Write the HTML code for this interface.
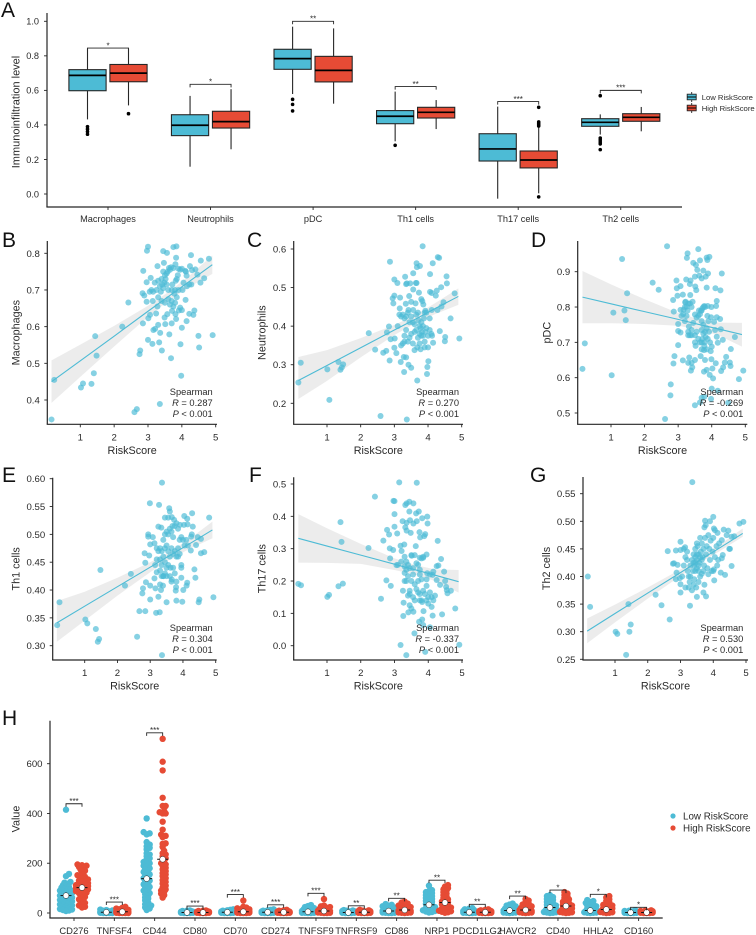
<!DOCTYPE html>
<html lang="en">
<head>
<meta charset="utf-8">
<title>Immune infiltration and RiskScore</title>
<style>
html,body{margin:0;padding:0;background:#fff;}
svg{display:block;font-family:"Liberation Sans",Arial,sans-serif;}
</style>
</head>
<body>
<svg id="chart" width="756" height="935" viewBox="0 0 756 935" xmlns="http://www.w3.org/2000/svg">
<g font-size="21" fill="#111">
<text x="1" y="17">A</text>
<text x="2" y="247">B</text>
<text x="247" y="247">C</text>
<text x="531" y="247">D</text>
<text x="2" y="482">E</text>
<text x="249" y="482">F</text>
<text x="530" y="482">G</text>
<text x="2" y="725">H</text>
</g>
<g id="panelA"></g>
<g id="panelB"></g>
<g id="panelC"></g>
<g id="panelD"></g>
<g id="panelE"></g>
<g id="panelF"></g>
<g id="panelG"></g>
<g id="panelH"></g>
</svg>
<script>
/* ---------- Panel A data ---------- */
const boxCategories = ["Macrophages","Neutrophils","pDC","Th1 cells","Th17 cells","Th2 cells"];
const boxYTicks = [0.0,0.2,0.4,0.6,0.8,1.0];
const boxYTickLabels = ["0.0","0.2","0.4","0.6","0.8","1.0"];
const lowWhiskerLow = [0.432,0.158,0.579,0.305,-0.027,0.344];
const lowQ1 = [0.598,0.338,0.722,0.407,0.191,0.392];
const lowMedian = [0.687,0.398,0.784,0.450,0.261,0.415];
const lowQ3 = [0.720,0.459,0.838,0.483,0.349,0.436];
const lowWhiskerHigh = [0.843,0.568,0.969,0.593,0.506,0.461];
const lowOutliers = [[0.390,0.376,0.361,0.346],[],[0.548,0.519,0.481],[0.282],[],[0.569,0.324,0.313,0.301,0.290,0.257]];
const highWhiskerLow = [0.513,0.259,0.523,0.376,0.004,0.363];
const highQ1 = [0.650,0.382,0.649,0.440,0.151,0.421];
const highMedian = [0.700,0.419,0.716,0.473,0.197,0.444];
const highQ3 = [0.750,0.479,0.797,0.502,0.249,0.465];
const highWhiskerHigh = [0.843,0.607,0.959,0.544,0.390,0.504];
const highOutliers = [[0.465],[],[],[],[0.502,0.417,0.409,0.400,0.394,-0.017],[]];
const boxBracketLevel = [0.845,0.635,1.000,0.622,0.535,0.600];
const boxStars = ["*","*","**","**","***","***"];
const riskGroups = ["Low RiskScore","High RiskScore"];

/* ---------- Scatter data ---------- */
const riskTicks = [1,2,3,4,5];
const bandRisk = [0.15,1,2,3,3.6,4.2,4.9];

const macrophagePoints = [[.15,.347],[.23,.455],[1.02,.434],[1.08,.445],[1.33,.444],[1.40,.473],[1.44,.574],[1.48,.521],[2.24,.6],[2.42,.666],[2.6,.367],[2.67,.375],[3.35,.389],[3.98,.466],[3.68,.514],[2.75,.525],[2.77,.535],[4.51,.543],[4.49,.575],[4.91,.577],[3.96,.552],[3.41,.535],[3.33,.557],[3.13,.553],[3.0,.564],[3.63,.579],[3.36,.583],[2.85,.609],[3.16,.591],[3.3,.605],[3.21,.594],[3.51,.607],[3.7,.609],[4.0,.597],[4.14,.615],[3.83,.621],[3.49,.625],[3.01,.623],[3.24,.636],[3.06,.632],[4.22,.635],[4.34,.632],[4.37,.644],[3.57,.634],[3.81,.634],[3.71,.643],[3.95,.652],[4.0,.645],[3.91,.644],[4.11,.673],[2.96,.668],[3.14,.67],[2.84,.691],[2.89,.685],[2.96,.721],[3.08,.733],[2.86,.752],[3.28,.765],[2.97,.807],[3.0,.818],[3.45,.806],[3.56,.801],[3.75,.817],[3.84,.819],[3.83,.788],[4.27,.795],[4.56,.78],[4.8,.785],[3.47,.774],[3.81,.77],[4.24,.765],[4.4,.756],[4.3,.754],[4.12,.75],[4.14,.739],[4.46,.742],[4.66,.732],[4.55,.72],[3.2,.72],[3.25,.70],[3.3,.725],[3.35,.71],[3.38,.695],[3.4,.73],[3.42,.715],[3.45,.705],[3.45,.75],[3.48,.72],[3.5,.74],[3.52,.73],[3.55,.745],[3.55,.715],[3.58,.75],[3.6,.70],[3.62,.76],[3.65,.755],[3.68,.762],[3.7,.70],[3.72,.715],[3.75,.76],[3.78,.69],[3.8,.70],[3.82,.725],[3.85,.73],[3.88,.74],[3.9,.758],[3.95,.755],[4.0,.758],[4.05,.72],[4.1,.752],[4.15,.71],[4.22,.715],[4.28,.715],[3.3,.68],[3.4,.67],[3.5,.665],[3.6,.675],[3.65,.66],[3.7,.67],[3.75,.655],[3.8,.665],[3.85,.68],[3.9,.70],[4.02,.70],[3.15,.695],[3.1,.70],[3.05,.695],[3.28,.655]];
const macrophageYTicks = [0.4,0.5,0.6,0.7,0.8];
const macrophageFit = [.45,.507,.574,.642,.682,.722,.769];
const macrophageBandLow = [.392,.463,.546,.627,.670,.707,.744];
const macrophageBandHigh = [.508,.551,.602,.657,.694,.737,.794];

const neutrophilPoints = [[.15,.254],[.22,.305],[1.01,.288],[1.07,.209],[1.34,.307],[1.4,.287],[1.44,.293],[1.48,.301],[2.24,.382],[2.43,.339],[2.59,.167],[2.67,.331],[2.76,.336],[2.78,.384],[2.84,.399],[2.86,.311],[2.87,.567],[2.89,.366],[3.0,.521],[3.09,.512],[3.01,.368],[3.0,.344],[3.06,.33],[3.19,.307],[3.28,.32],[3.35,.319],[3.42,.3],[3.5,.292],[3.29,.281],[3.37,.158],[3.68,.259],[3.97,.276],[3.98,.294],[4.01,.309],[3.84,.607],[4.29,.579],[4.33,.577],[4.14,.563],[3.66,.563],[3.76,.556],[3.67,.553],[3.56,.537],[3.32,.528],[4.06,.535],[4.55,.529],[4.56,.511],[4.39,.501],[4.26,.492],[4.06,.489],[4.11,.486],[4.23,.479],[4.79,.485],[4.67,.42],[4.93,.368],[4.5,.361],[4.51,.372],[4.35,.387],[4.15,.357],[3.37,.511],[3.35,.509],[3.47,.511],[3.64,.512],[3.66,.512],[3.56,.495],[3.73,.487],[3.0,.479],[2.95,.472],[2.97,.459],[3.17,.474],[3.44,.478],[3.8,.47],[3.83,.465],[3.86,.456],[3.5,.463],[3.63,.459],[3.34,.458],[3.16,.446],[3.42,.442],[3.56,.442],[4.11,.442],[4.28,.442],[4.46,.462],[4.4,.451],[3.2,.425],[3.25,.43],[3.3,.42],[3.35,.425],[3.4,.435],[3.45,.41],[3.5,.425],[3.55,.41],[3.6,.405],[3.65,.43],[3.7,.435],[3.72,.415],[3.75,.40],[3.78,.395],[3.8,.41],[3.82,.385],[3.85,.40],[3.85,.375],[3.88,.42],[3.9,.435],[3.92,.385],[3.7,.37],[3.75,.38],[3.8,.375],[3.6,.385],[3.65,.39],[3.5,.38],[3.45,.37],[3.55,.355],[3.4,.36],[3.3,.375],[3.25,.355],[3.3,.36],[3.2,.35],[3.35,.39],[3.95,.395],[4.0,.375],[4.05,.39],[4.1,.38],[4.12,.375],[4.0,.345],[3.9,.345],[3.78,.34],[3.68,.345],[3.6,.338],[3.9,.36],[3.75,.355],[3.1,.40],[3.15,.43],[4.05,.42],[3.92,.44],[3.95,.435]];
const neutrophilYTicks = [0.2,0.3,0.4,0.5,0.6];
const neutrophilFit = [.259,.298,.344,.39,.417,.445,.477];
const neutrophilBandLow = [.211,.258,.319,.377,.406,.431,.455];
const neutrophilBandHigh = [.32,.338,.369,.403,.428,.459,.498];

const pdcPoints = [[.15,.625],[.22,.697],[1.02,.607],[1.07,.784],[1.33,.936],[1.4,.79],[1.44,.763],[1.48,.839],[2.24,.869],[2.42,.849],[2.61,.483],[2.67,.972],[2.78,.581],[2.77,.55],[2.85,.82],[2.87,.787],[2.86,.64],[2.89,.661],[3.0,.692],[3.0,.752],[3.0,.732],[3.07,.728],[2.95,.875],[2.96,.853],[2.98,.832],[3.07,.859],[3.14,.835],[3.14,.649],[3.28,.952],[3.26,.939],[3.6,.964],[3.45,.925],[3.53,.919],[3.57,.905],[3.65,.932],[3.85,.94],[3.93,.942],[3.87,.933],[3.75,.903],[3.89,.895],[4.3,.895],[3.24,.878],[3.37,.875],[3.5,.886],[3.63,.889],[3.7,.881],[3.82,.886],[3.35,.865],[3.51,.858],[3.54,.848],[3.85,.855],[4.11,.853],[4.26,.847],[3.36,.834],[3.21,.813],[3.43,.815],[4.15,.817],[4.13,.803],[3.99,.8],[3.88,.803],[3.78,.803],[3.72,.796],[3.68,.789],[3.5,.779],[3.16,.792],[3.07,.792],[3.25,.801],[3.87,.775],[3.98,.771],[4.15,.771],[4.25,.766],[4.07,.758],[4.27,.737],[4.1,.735],[4.69,.715],[4.33,.707],[4.15,.716],[4.18,.699],[4.0,.688],[4.57,.681],[3.7,.68],[3.77,.678],[3.97,.675],[4.43,.659],[3.67,.661],[3.33,.657],[3.3,.642],[3.4,.642],[3.5,.65],[3.8,.65],[3.99,.652],[4.39,.643],[4.54,.643],[4.56,.633],[4.34,.629],[4.12,.641],[4.02,.626],[4.28,.619],[3.42,.629],[3.38,.62],[3.77,.617],[3.85,.622],[3.94,.608],[4.04,.598],[4.94,.62],[4.81,.596],[4,.569],[4.18,.563],[3.7,.543],[3.78,.546],[3.98,.54],[3.5,.522],[3.65,.53],[4.49,.529],[3.1,.775],[3.15,.78],[3.2,.80],[3.22,.815],[3.3,.81],[3.35,.81],[3.4,.80],[3.28,.79],[3.25,.775],[3.2,.76],[3.4,.72],[3.3,.73],[3.32,.745],[3.35,.72],[3.45,.755],[3.5,.72],[3.55,.73],[3.6,.71],[3.65,.70],[3.7,.735],[3.72,.71],[3.75,.725],[3.78,.70],[3.8,.73],[3.82,.715],[3.85,.74],[3.88,.71],[3.7,.76],[3.75,.75],[3.6,.775],[3.55,.77],[3.65,.78],[3.7,.79],[3.92,.73],[3.95,.70],[3.5,.70],[3.52,.69],[3.78,.69],[3.85,.68],[3.62,.79],[3.4,.735],[3.3,.72],[3.75,.80],[3.8,.80],[3.9,.76],[3.7,.70]];
const pdcYTicks = [0.5,0.6,0.7,0.8,0.9];
const pdcFit = [.828,.809,.787,.765,.751,.738,.722];
const pdcBandLow = [.754,.754,.752,.747,.736,.72,.688];
const pdcBandHigh = [.902,.864,.822,.783,.766,.756,.755];

const th1Points = [[.16,.337],[.23,.378],[1.02,.347],[1.08,.34],[1.34,.33],[1.44,.312],[1.4,.307],[1.48,.436],[2.23,.408],[2.41,.429],[2.6,.316],[2.67,.362],[2.85,.362],[2.76,.394],[2.78,.403],[2.87,.414],[3.0,.408],[3.0,.383],[2.85,.449],[2.83,.466],[2.97,.462],[2.99,.556],[3.27,.553],[3.36,.593],[3.58,.547],[3.6,.541],[4.28,.538],[4.04,.533],[4.13,.528],[4.8,.53],[3.45,.53],[3.55,.53],[3.73,.526],[3.66,.531],[3.25,.514],[3.34,.512],[2.94,.5],[2.94,.496],[3.08,.495],[3,.482],[3.13,.484],[4.03,.517],[3.91,.517],[4.3,.514],[4.14,.518],[4.27,.5],[4.25,.496],[4.45,.495],[4.55,.492],[4.4,.481],[4.24,.471],[4.55,.466],[4.65,.468],[4.35,.437],[4.38,.422],[3.95,.422],[4.13,.413],[4.11,.408],[4.01,.4],[3.78,.399],[3.79,.405],[4.93,.387],[4.5,.383],[4.48,.378],[3.98,.379],[3.8,.381],[3.5,.378],[3.25,.388],[3.33,.4],[3.16,.403],[3.39,.408],[3.18,.359],[3.29,.36],[3.36,.283],[3.13,.421],[3.4,.425],[3.2,.432],[3.66,.419],[3.2,.475],[3.25,.47],[3.3,.475],[3.35,.47],[3.4,.49],[3.45,.50],[3.5,.505],[3.55,.50],[3.6,.51],[3.65,.505],[3.68,.515],[3.7,.495],[3.75,.515],[3.8,.52],[3.85,.51],[3.9,.49],[3.3,.455],[3.35,.445],[3.4,.46],[3.45,.475],[3.5,.48],[3.55,.47],[3.6,.46],[3.65,.475],[3.7,.465],[3.75,.47],[3.8,.46],[3.85,.475],[3.9,.465],[3.95,.495],[4.0,.49],[3.2,.455],[3.15,.445],[3.45,.45],[3.55,.445],[3.62,.44],[3.7,.44],[3.75,.43],[3.6,.425],[3.45,.43],[3.5,.44],[3.35,.425],[3.4,.425],[3.3,.435],[3.95,.44],[3.95,.445],[4.1,.49],[4.15,.48],[4.05,.48],[3.85,.46],[3.8,.415],[3.5,.425],[3.3,.41],[3.65,.415]];
const th1YTicks = [0.30,0.35,0.40,0.45,0.50,0.55,0.60];
const th1Fit = [.341,.371,.406,.441,.462,.483,.508];
const th1BandLow = [.307,.345,.39,.432,.455,.474,.493];
const th1BandHigh = [.38,.397,.422,.45,.469,.492,.523];

const th17Points = [[.15,.191],[.23,.187],[1.01,.151],[1.06,.157],[1.34,.184],[1.47,.192],[1.4,.382],[1.43,.321],[2.23,.302],[2.42,.461],[2.6,.145],[2.67,.325],[2.76,.202],[2.78,.358],[2.84,.344],[2.86,.301],[2.87,.27],[2.89,.185],[2.96,.296],[2.97,.448],[3.0,.447],[3.0,.407],[3.0,.368],[3.08,.347],[3.06,.249],[3.14,.505],[3.18,.002],[3.26,.092],[3.27,.133],[3.35,-.029],[3.41,.103],[3.56,.105],[3.59,.038],[3.66,.504],[3.32,.435],[3.36,.44],[3.44,.445],[3.56,.44],[3.64,.409],[3.72,.415],[3.44,.415],[3.24,.385],[3.36,.38],[3.46,.388],[3.56,.378],[3.66,.385],[3.82,.394],[3.97,.399],[3.98,.378],[3.32,.366],[3.36,.356],[3.48,.349],[3.74,.351],[3.76,.335],[3.88,.339],[3.91,.345],[4.28,.324],[3.63,.308],[3.18,.309],[3.29,.313],[3.21,.293],[3.51,.278],[3.95,.282],[4.38,.268],[3.85,.272],[3.75,.272],[4.3,.248],[4.25,.246],[4.47,.229],[4.15,.229],[4.13,.219],[3.97,.224],[4.25,.203],[4.5,.2],[4.35,.188],[4.53,.182],[4.67,.17],[4.55,.172],[4.57,.162],[4.8,.115],[4.41,.097],[4.13,.093],[3.86,.107],[3.82,.081],[3.73,.074],[3.85,.064],[4.05,.057],[4.92,.003],[3.91,-.019],[3.1,.25],[3.2,.26],[3.3,.275],[3.35,.26],[3.3,.245],[3.4,.25],[3.45,.24],[3.5,.28],[3.6,.28],[3.65,.255],[3.7,.25],[3.75,.235],[3.8,.27],[3.85,.275],[3.3,.20],[3.25,.17],[3.35,.20],[3.4,.215],[3.45,.17],[3.5,.20],[3.55,.22],[3.6,.19],[3.65,.175],[3.7,.20],[3.75,.22],[3.8,.205],[3.85,.17],[3.9,.16],[3.95,.185],[3.4,.155],[3.45,.16],[3.55,.15],[3.6,.14],[3.7,.165],[3.75,.16],[3.8,.14],[3.82,.135],[3.95,.14],[4.0,.15],[4.05,.165],[4.1,.15],[4.15,.14],[4.2,.155],[3.45,.125],[3.5,.115],[3.75,.14],[4.0,.13],[4.1,.12],[3.3,.225],[3.35,.235],[3.55,.24],[3.95,.205],[4.05,.22]];
const th17YTicks = [0.0,0.1,0.2,0.3,0.4,0.5];
const th17Fit = [.332,.308,.28,.252,.235,.218,.198];
const th17BandLow = [.257,.256,.253,.234,.22,.2,.164];
const th17BandHigh = [.407,.363,.315,.27,.25,.236,.234];

const th2Points = [[.17,.4],[.24,.345],[1.02,.3],[1.07,.296],[1.34,.258],[1.44,.3],[1.48,.313],[1.41,.35],[2.24,.367],[2.42,.348],[2.61,.446],[2.67,.322],[2.77,.423],[2.8,.424],[2.86,.447],[2.88,.407],[2.86,.395],[3.0,.463],[3,.448],[3.14,.453],[2.98,.397],[3,.386],[3,.371],[2.91,.421],[3.29,.347],[3.5,.363],[3.7,.371],[3.78,.364],[3.73,.385],[3.36,.571],[3.75,.501],[3.9,.5],[3.77,.493],[3.73,.489],[4,.508],[4.02,.487],[4.05,.484],[4.32,.485],[4.46,.483],[4.13,.479],[4.8,.496],[4.92,.499],[4.64,.473],[4.56,.472],[4.41,.475],[4.26,.466],[4.51,.45],[4.49,.45],[4.29,.439],[4.26,.433],[4.02,.413],[4.23,.407],[4.36,.403],[4.56,.419],[4.03,.393],[3.85,.404],[3.1,.42],[3.15,.435],[3.2,.43],[3.22,.41],[3.25,.40],[3.28,.39],[3.3,.42],[3.35,.43],[3.38,.41],[3.4,.44],[3.42,.395],[3.45,.425],[3.48,.38],[3.5,.43],[3.52,.455],[3.55,.44],[3.55,.41],[3.58,.425],[3.6,.40],[3.62,.445],[3.65,.46],[3.68,.435],[3.7,.45],[3.72,.42],[3.75,.47],[3.78,.44],[3.8,.455],[3.82,.415],[3.85,.475],[3.88,.45],[3.9,.43],[3.92,.465],[3.95,.41],[3.98,.445],[4.0,.47],[4.05,.435],[4.1,.455],[4.12,.42],[4.15,.43],[4.18,.46],[3.3,.40],[3.4,.385],[3.55,.39],[3.65,.405],[3.25,.38],[3.15,.38],[3.5,.46],[3.42,.42],[3.7,.41],[3.6,.47],[3.35,.375],[3.45,.45],[4.0,.41],[3.05,.40],[3.1,.45],[3.2,.445],[3.45,.41],[3.5,.415],[3.55,.42],[3.6,.435],[3.65,.43],[3.45,.435],[3.4,.425],[3.5,.44]];
const th2YTicks = [0.25,0.30,0.35,0.40,0.45,0.50,0.55];
const th2Fit = [.301,.333,.37,.407,.43,.452,.478];
const th2BandLow = [.279,.317,.36,.401,.425,.446,.472];
const th2BandHigh = [.324,.349,.38,.413,.435,.458,.487];

/* ---------- Panel H data ---------- */
const swarmCategories = ["CD276","TNFSF4","CD44","CD80","CD70","CD274","TNFSF9","TNFRSF9","CD86","NRP1","PDCD1LG2","HAVCR2","CD40","HHLA2","CD160"];
const swarmYTicks = [0,200,400,600];
const swarmLow = [
[415,157,148,125,122,118,112,108,105,102,98,95,92,90,88,85,82,80,78,76,74,72,70,68,66,64,62,60,58,56,54,52,50,48,46,44,42,40,38,36,34,32,30,28,26,24,22,20,18,16,14,12,10,8],
[14,12,10,9,8,7,6,5,5,4,4,3,3,3,2,2,2,1,1,1,1,0,0,0,0],
[380,325,320,316,285,275,268,262,255,240,235,228,220,215,205,200,198,190,185,180,175,170,165,160,155,150,145,140,135,130,125,120,115,110,105,100,95,90,85,80,75,70,62,58,50,42,35,30,28,22,18,12],
[10,9,8,7,6,5,5,4,4,3,3,2,2,2,1,1,1,0,0,0],
[15,13,11,9,8,7,6,5,4,4,3,3,2,2,2,1,1,1,0,0,0],
[15,13,11,9,8,7,6,5,4,4,3,3,2,2,2,1,1,1,0,0,0],
[32,28,24,20,18,16,14,12,10,9,8,7,6,5,4,3,3,2,2,1,1,1,0,0],
[12,10,9,8,7,6,5,4,3,3,2,2,1,1,1,0,0,0],
[36,33,30,27,24,22,20,18,16,14,12,10,9,8,7,6,5,4,3,3,2,2,1,1,0,0],
[110,92,88,84,80,76,72,68,64,60,56,52,48,44,40,36,32,28,24,20,17,14,11,8,6,4,2],
[20,18,15,13,11,9,8,7,6,5,4,3,3,2,2,1,1,1,0,0],
[38,34,30,27,24,21,18,16,14,12,10,9,8,7,6,5,4,3,3,2,2,1,1,0],
[72,68,64,60,56,52,48,44,40,36,33,30,27,24,21,18,15,12,10,8,6,5,4,3,2,1,0],
[52,48,44,40,36,33,30,27,24,21,18,15,12,10,8,6,5,4,3,2,1,1,0],
[11,9,8,7,6,5,4,3,3,2,2,1,1,1,0,0,0]
];
const swarmHigh = [
[195,192,190,185,182,175,170,165,155,152,150,145,140,135,130,128,125,120,118,115,112,110,108,105,102,100,98,95,92,90,88,85,82,80,75,70,65,60,55,50,45,40,35,30,25,22],
[25,21,18,15,13,11,9,8,7,6,5,5,4,4,3,3,2,2,1,1,1,0,0,0,0],
[700,608,573,463,430,430,410,405,400,400,367,335,315,310,305,280,278,265,250,240,235,228,220,215,205,200,195,190,182,175,168,160,155,148,140,132,125,118,110,102,95,90,85,78,72,62],
[10,9,8,7,6,5,5,4,4,3,3,2,2,2,1,1,1,0,0,0],
[50,25,22,19,17,15,13,11,9,8,7,6,5,4,4,3,3,2,2,1,1,1,0,0,0],
[13,11,9,8,7,6,5,4,4,3,3,2,2,2,1,1,1,0,0,0],
[56,30,27,24,21,18,16,14,12,10,9,8,7,6,5,4,3,3,2,2,1,1,0,0],
[13,11,9,8,7,6,5,4,3,3,2,2,1,1,1,0,0,0],
[46,42,38,34,30,27,24,22,20,18,16,14,12,10,9,8,7,6,5,4,3,3,2,2,1,1,0],
[112,106,100,95,90,84,78,72,66,60,55,50,46,42,38,34,30,26,22,18,15,12,9,7,5,3,1],
[15,13,11,10,9,8,7,6,5,4,3,3,2,2,1,1,1,0,0,0],
[56,50,44,38,34,30,27,24,21,18,16,14,12,10,9,8,7,6,5,4,3,3,2,1,1,0],
[84,78,72,66,60,55,50,45,40,36,33,30,27,24,21,18,15,12,10,8,6,5,4,3,2,1,0],
[68,62,55,48,42,36,33,30,27,24,21,18,15,12,10,8,6,5,4,3,2,1,0],
[11,9,8,7,6,5,4,3,3,2,2,1,1,1,0,0,0]
];
const swarmLowMean = [70,3,138,2,3,3,5,2,8,33,3,10,22,10,2];
const swarmHighMean = [102,5,216,2,5,3,8,3,12,42,3,12,28,14,2];
const swarmBracketLevel = [439,44,724,28,74,33,79,29,59,132,35,68,92,75,23];
const swarmStars = ["***","***","***","***","***","***","***","**","**","**","**","**","*","*","*"];

/* ---------- Style constants ---------- */
const BLUE = "#4DBBD5", RED = "#E64B35", INK = "#262626", LABEL = "#2a2a2a";
const SVGNS = "http://www.w3.org/2000/svg";

function make(parent, tag, attrs, content){
  const node = document.createElementNS(SVGNS, tag);
  for(const k in attrs){ node.setAttribute(k, attrs[k]); }
  if(content !== undefined){ node.textContent = content; }
  parent.appendChild(node);
  return node;
}
function linearAxis(d0, r0, d1, r1){
  return v => r0 + (v - d0) * (r1 - r0) / (d1 - d0);
}
function slug(s){ return String(s).toLowerCase().replace(/[^a-z0-9]+/g,'-'); }

function drawAxisLines(g, x0, x1, yTop, yBottom){
  const yAxis = make(g,'line',{x1:x0,x2:x0,y1:yTop,y2:yBottom,stroke:INK,'stroke-width':1.2});
  
  
  const xAxis = make(g,'line',{x1:x0-0.6,x2:x1,y1:yBottom,y2:yBottom,stroke:INK,'stroke-width':1.2});
  
  
}
function drawYTick(g, axisX, y, label, size, gap){
  const t = make(g,'line',{x1:axisX-3,x2:axisX,y1:y,y2:y,stroke:INK,'stroke-width':0.9});
  
  
  const l = make(g,'text',{x:axisX-gap,y:y+size*0.36,'text-anchor':'end','font-size':size,fill:LABEL},label);
  
  
}
function drawXTick(g, x, axisY, label, size, offset){
  const t = make(g,'line',{x1:x,x2:x,y1:axisY,y2:axisY+3,stroke:INK,'stroke-width':0.9});
  
  
  const l = make(g,'text',{x:x,y:axisY+offset,'text-anchor':'middle','font-size':size,fill:LABEL},label);
  
  
}
function drawYTitle(g, x, y, label, size){
  const t = make(g,'text',{x:0,y:0,transform:'translate('+x+','+y+') rotate(-90)','text-anchor':'middle','font-size':size,fill:LABEL},label);
  
  
}
function drawBracket(g, xa, xb, y, stars, name){
  const b = make(g,'path',{d:'M'+xa+' '+(y+3)+'V'+y+'H'+xb+'V'+(y+3),fill:'none',stroke:INK,'stroke-width':0.9});
  
  
  const s = make(g,'text',{x:(xa+xb)/2,y:y+0.2,'text-anchor':'middle','font-size':8,fill:LABEL},stars);
  
  
}

/* ---------- Panel A ---------- */
(function(){
  const g = document.getElementById('panelA');
  const yA = linearAxis(0, 194, 1, 21.3);
  const xA = i => 108 + i * 102.55;
  drawAxisLines(g, 47, 682, 13, 207);
  boxYTicks.forEach((v,i) => drawYTick(g, 47, yA(v), boxYTickLabels[i], 9.2, 8));
  boxCategories.forEach((c,i) => drawXTick(g, xA(i), 207, c, 9.2, 15));
  drawYTitle(g, 19.5, 112, 'Immunoinfiltration level', 11);
  function drawBox(cx, wl, q1, med, q3, wh, outs, color, name){
    const group = make(g,'g',{});
    
    
    make(group,'line',{x1:cx,x2:cx,y1:yA(wl),y2:yA(wh),stroke:INK,'stroke-width':1.1});
    make(group,'rect',{x:cx-18.6,y:yA(q3),width:37.2,height:yA(q1)-yA(q3),fill:color,stroke:INK,'stroke-width':1.1});
    make(group,'line',{x1:cx-18.6,x2:cx+18.6,y1:yA(med),y2:yA(med),stroke:'#000','stroke-width':1.7});
    outs.forEach(o => { make(group,'circle',{cx:cx,cy:yA(o),r:1.8,fill:'#000'}); });
  }
  boxCategories.forEach((c,i) => {
    const cx = xA(i), lx = cx - 20.5, hx = cx + 20.5;
    drawBox(lx, lowWhiskerLow[i], lowQ1[i], lowMedian[i], lowQ3[i], lowWhiskerHigh[i], lowOutliers[i], BLUE, 'box-low-'+slug(c));
    drawBox(hx, highWhiskerLow[i], highQ1[i], highMedian[i], highQ3[i], highWhiskerHigh[i], highOutliers[i], RED, 'box-high-'+slug(c));
    drawBracket(g, lx, hx, yA(boxBracketLevel[i]), boxStars[i], 'comparison-'+slug(c));
  });
  riskGroups.forEach((label,i) => {
    const y = 97 + i * 11;
    const entry = make(g,'g',{});
    
    
    make(entry,'line',{x1:691.7,x2:691.7,y1:y-5,y2:y+5,stroke:INK,'stroke-width':0.9});
    make(entry,'rect',{x:687.2,y:y-2.8,width:9,height:5.6,fill:i?RED:BLUE,stroke:INK,'stroke-width':0.9});
    make(entry,'line',{x1:687.2,x2:696.2,y1:y,y2:y,stroke:'#000','stroke-width':1});
    make(entry,'text',{x:701.7,y:y+2.9,'font-size':7.7,fill:LABEL},label);
  });
})();

/* ---------- Scatter panels ---------- */
function drawScatter(opt){
  const g = document.getElementById(opt.id);
  const x = linearAxis(1, opt.x1, 5, opt.x5);
  const y = linearAxis(opt.yRef[0], opt.yRef[1], opt.yRef[2], opt.yRef[3]);
  drawAxisLines(g, opt.axisX, opt.axisEnd, opt.top, opt.bottom);
  opt.yTicks.forEach(v => drawYTick(g, opt.axisX, y(v), v.toFixed(opt.digits), 9.6, 7.5));
  riskTicks.forEach(v => drawXTick(g, x(v), opt.bottom, String(v), 9.6, 16));
  drawYTitle(g, opt.titleX, (opt.top+opt.bottom)/2, opt.title, 10.8);
  const xt = make(g,'text',{x:(opt.axisX+opt.axisEnd)/2,y:opt.bottom+29.5,'text-anchor':'middle','font-size':10.8,fill:LABEL},'RiskScore');
  
  
  const top = bandRisk.map((r,i) => x(r)+','+y(opt.bandHigh[i]));
  const bot = bandRisk.map((r,i) => x(r)+','+y(opt.bandLow[i])).reverse();
  const band = make(g,'polygon',{points:top.concat(bot).join(' '),fill:'#a8a8a8','fill-opacity':0.22});
  
  
  opt.points.forEach(p => {
    const dot = make(g,'circle',{cx:x(p[0]),cy:y(p[1]),r:3,fill:BLUE,'fill-opacity':0.68});
    
    
  });
  const fit = make(g,'polyline',{points:bandRisk.map((r,i) => x(r)+','+y(opt.fit[i])).join(' '),fill:'none',stroke:BLUE,'stroke-width':1.1});
  
  
  const a1 = make(g,'text',{x:opt.noteX,y:opt.noteY,'text-anchor':'end','font-size':9.3,fill:LABEL},'Spearman');
  
  
  const a2 = make(g,'text',{x:opt.noteX,y:opt.noteY+11,'text-anchor':'end','font-size':9.3,fill:LABEL});
  
  
  make(a2,'tspan',{'font-style':'italic'},'R');
  make(a2,'tspan',{},' = '+opt.r);
  const a3 = make(g,'text',{x:opt.noteX,y:opt.noteY+22,'text-anchor':'end','font-size':9.3,fill:LABEL});
  
  
  make(a3,'tspan',{'font-style':'italic'},'P');
  make(a3,'tspan',{},' < 0.001');
}
drawScatter({id:'panelB',title:'Macrophages',points:macrophagePoints,yTicks:macrophageYTicks,digits:1,fit:macrophageFit,bandLow:macrophageBandLow,bandHigh:macrophageBandHigh,axisX:47.3,axisEnd:217,top:241,bottom:424.3,x1:80.3,x5:215.7,yRef:[.8,253.3,.4,400],titleX:19.5,noteX:212.7,noteY:395,r:'0.287'});
drawScatter({id:'panelC',title:'Neutrophils',points:neutrophilPoints,yTicks:neutrophilYTicks,digits:1,fit:neutrophilFit,bandLow:neutrophilBandLow,bandHigh:neutrophilBandHigh,axisX:293.7,axisEnd:463,top:241,bottom:424.3,x1:327,x5:461.7,yRef:[.6,249,.2,403.3],titleX:265.5,noteX:459,noteY:395,r:'0.270'});
drawScatter({id:'panelD',title:'pDC',points:pdcPoints,yTicks:pdcYTicks,digits:1,fit:pdcFit,bandLow:pdcBandLow,bandHigh:pdcBandHigh,axisX:577.7,axisEnd:747.3,top:241,bottom:424.3,x1:611,x5:745.3,yRef:[.9,271.7,.5,413],titleX:550.5,noteX:743.3,noteY:395,r:'-0.269'});
drawScatter({id:'panelE',title:'Th1 cells',points:th1Points,yTicks:th1YTicks,digits:2,fit:th1Fit,bandLow:th1BandLow,bandHigh:th1BandHigh,axisX:52.7,axisEnd:216.7,top:477.7,bottom:660,x1:84.7,x5:215.7,yRef:[.6,478.7,.3,645.7],titleX:19.5,noteX:212.7,noteY:631,r:'0.304'});
drawScatter({id:'panelF',title:'Th17 cells',points:th17Points,yTicks:th17YTicks,digits:1,fit:th17Fit,bandLow:th17BandLow,bandHigh:th17BandHigh,axisX:293.7,axisEnd:463,top:477.3,bottom:660,x1:327,x5:462,yRef:[.5,484,0,645.7],titleX:265.5,noteX:459,noteY:631,r:'-0.337'});
drawScatter({id:'panelG',title:'Th2 cells',points:th2Points,yTicks:th2YTicks,digits:2,fit:th2Fit,bandLow:th2BandLow,bandHigh:th2BandHigh,axisX:583,axisEnd:748,top:477,bottom:660,x1:615,x5:746,yRef:[.55,493.7,.25,659.3],titleX:550,noteX:743.3,noteY:631,r:'0.530'});

/* ---------- Panel H ---------- */
(function(){
  const g = document.getElementById('panelH');
  const yH = linearAxis(0, 913, 600, 763.7);
  const xH = i => 74 + i * 40.33;
  drawAxisLines(g, 50, 662.7, 720.7, 918);
  swarmYTicks.forEach(v => drawYTick(g, 50, yH(v), String(v), 9.6, 7.5));
  swarmCategories.forEach((c,i) => drawXTick(g, xH(i), 918, c, 9.4, 16.2));
  drawYTitle(g, 19.5, 819, 'Value', 10.8);
  /* deterministic swarm: nudge each value sideways until it no longer collides */
  function swarmOffsets(values){
    const order = values.map((v,i) => i).sort((a,b) => values[a]-values[b]);
    const placed = [], offsets = [];
    const tries = [0,1.5,-1.5,3,-3,4.5,-4.5,6,-6];
    order.forEach(idx => {
      const py = yH(values[idx]);
      let best = 0, bestD = -1;
      for(const t of tries){
        let d = 99;
        placed.forEach(p => { d = Math.min(d, Math.hypot(p[0]-t, p[1]-py)); });
        if(d >= 2.7){ best = t; bestD = 99; break; }
        if(d > bestD){ best = t; bestD = d; }
      }
      placed.push([best, py]);
      offsets[idx] = best;
    });
    return offsets;
  }
  function drawGroup(values, mean, cx, color, name){
    const group = make(g,'g',{});
    
    
    const off = swarmOffsets(values);
    values.forEach((v,i) => { make(group,'circle',{cx:cx+off[i],cy:yH(v),r:3.2,fill:color}); });
    const bar = make(group,'line',{x1:cx-5.5,x2:cx+5.5,y1:yH(mean),y2:yH(mean),stroke:'#111','stroke-width':1});
    
    
    const m = make(group,'circle',{cx:cx,cy:yH(mean),r:2.9,fill:'#fff',stroke:'#222','stroke-width':0.5});
    
    
  }
  swarmCategories.forEach((c,i) => {
    const cx = xH(i);
    drawGroup(swarmLow[i], swarmLowMean[i], cx-8, BLUE, 'swarm-low-'+slug(c));
    drawGroup(swarmHigh[i], swarmHighMean[i], cx+8, RED, 'swarm-high-'+slug(c));
    drawBracket(g, cx-8, cx+8, yH(swarmBracketLevel[i]), swarmStars[i], 'comparison-'+slug(c));
  });
  riskGroups.forEach((label,i) => {
    const y = 816 + i * 12;
    const entry = make(g,'g',{});
    
    
    make(entry,'circle',{cx:673,cy:y,r:2.6,fill:i?RED:BLUE});
    make(entry,'text',{x:683,y:y+3.4,'font-size':9.8,fill:LABEL},label);
  });
})();
</script>
</body>
</html>
